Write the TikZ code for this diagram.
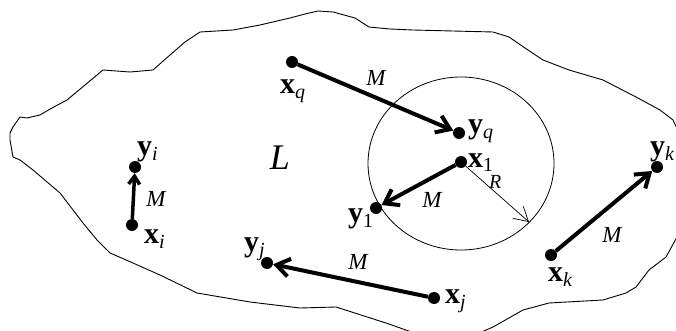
\documentclass[tikz,border=0pt]{standalone}
\usepackage{fontspec}
\setmainfont{Liberation Serif}
\usetikzlibrary{arrows.meta}
\newcommand{\vlab}[2]{{\fontsize{30}{30}\selectfont\textbf{#1}}\raisebox{-5pt}{\fontsize{20}{20}\selectfont #2}}
\tikzset{
  dot/.style={circle,fill=black,inner sep=0pt,minimum size=12pt},
  vec/.style={line width=4pt,-{Straight Barb[length=13pt,width=18pt]}},
  lab/.style={anchor=base west,inner sep=0pt},
  mlab/.style={inner sep=0pt,font=\fontsize{23}{23}\selectfont\itshape},
  blob/.style={line width=0.9pt,line join=round}
}
\begin{document}
\begin{tikzpicture}[x=1pt,y=-1pt]
\useasboundingbox (0,0) rectangle (676,331);
\clip (0,0) rectangle (676,331);
% region L
\draw[blob] (10,133)--(13,127)--(20,117)--(27,118)--(40,115)--(52,108)--(67,100)--(85,85)--(103,70)--(130,72)--(153,70)--(170,55)--(185,42)--(200,32)--(233,30)--(260,25)--(290,18)--(305,14)--(318,11)--(333,12)--(355,18)--(369,27)--(390,29)--(413,30)--(493,32)--(509,37)--(525,48)--(543,60)--(569,70)--(603,80)--(636,97)--(660,110)--(673,120)--(680,135)--(680,200)--(677,237)--(666,257)--(649,270)--(636,287)--(626,293)--(603,300)--(549,303)--(523,310)--(493,327)--(470,337)--(420,335)--(386,323)--(336,307)--(300,308)--(250,302)--(197,293)--(160,275)--(133,263)--(110,253)--(97,240)--(83,223)--(60,193)--(33,170)--(20,160)--(13,157)--(10,140)--cycle;
% circle
\draw[line width=0.8pt] (461,163.5) ellipse [x radius=93, y radius=86.5];
% points
\node[dot] (xq) at (292,62) {};
\node[dot] (yq) at (459,133) {};
\node[dot] (x1) at (461,162) {};
\node[dot] (y1) at (376,208) {};
\node[dot] (yi) at (135,167) {};
\node[dot] (xi) at (132,225) {};
\node[dot] (yj) at (267,263) {};
\node[dot] (xj) at (434,298) {};
\node[dot] (xk) at (551,255) {};
\node[dot] (yk) at (657,167) {};
\coordinate (rend) at (529,222);
% vectors
\draw[vec] (xq) -- (yq);
\draw[vec] (x1) -- (y1);
\draw[line width=3.5pt,-{Straight Barb[length=8pt,width=11pt]}] (xi) -- (yi);
\draw[vec] (xj) -- (yj);
\draw[vec] (xk) -- (yk);
\draw[line width=0.7pt,-{Straight Barb[length=14pt,width=16pt]}] (x1) -- (rend);
% labels
\node[lab] (lxq) at (280,94) {\vlab{x}{\textit{q}}};
\node[lab] (lyq) at (468,134) {\vlab{y}{\textit{q}}};
\node[lab] (lx1) at (468,167) {\vlab{x}{1}};
\node[lab,font=\fontsize{20}{20}\selectfont\itshape] (lR) at (489,188) {R};
\node[lab] (ly1) at (348,222) {\vlab{y}{1}};
\node[lab] (lyi) at (137,156) {\vlab{y}{\textit{i}}};
\node[lab] (lxi) at (144,243) {\vlab{x}{\textit{i}}};
\node[lab] (lyj) at (244,251) {\vlab{y}{\textit{j}}};
\node[lab] (lxj) at (445,303) {\vlab{x}{\textit{j}}};
\node[lab] (lxk) at (548,281) {\vlab{x}{\textit{k}}};
\node[lab] (lyk) at (650,156) {\vlab{y}{\textit{k}}};
\node[mlab] (mq) at (376,78) {M};
\node[mlab] (m1) at (432,200) {M};
\node[mlab] (mi) at (156,199) {M};
\node[mlab] (mj) at (358,262) {M};
\node[mlab] (mk) at (612,235) {M};
\node[inner sep=0pt,font=\fontsize{36}{36}\selectfont\itshape] (L) at (280,158) {L};
\end{tikzpicture}
\end{document}
